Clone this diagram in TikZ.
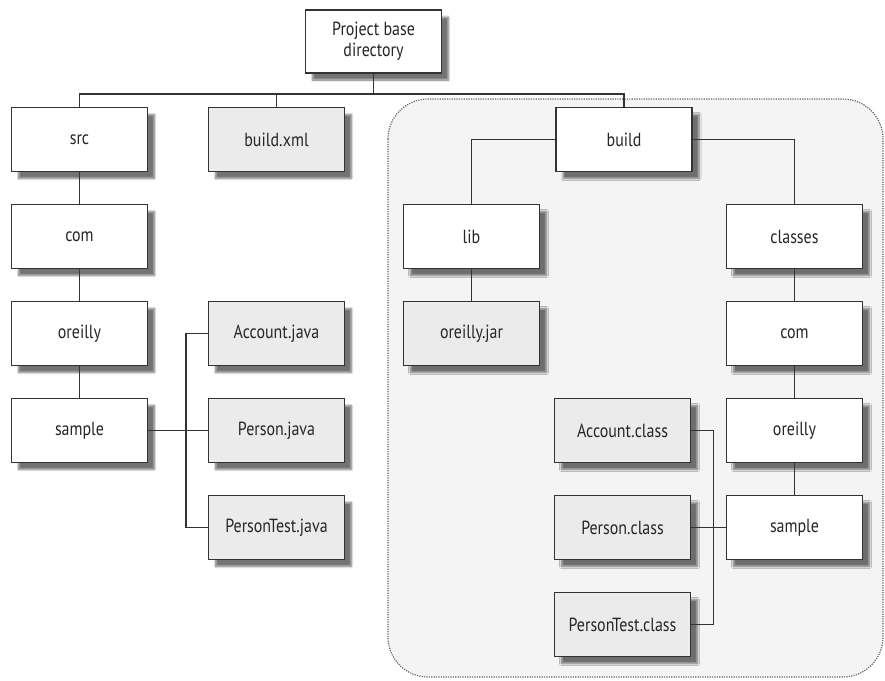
\documentclass[tikz,border=0pt]{standalone}
\usepackage{fontspec}
\setmainfont[FakeStretch=0.84]{PT Sans}
\usetikzlibrary{shadows.blur}
\definecolor{regionfill}{HTML}{F4F4F4}
\definecolor{filefill}{HTML}{EBEBEB}
\definecolor{linecol}{HTML}{333333}
\begin{document}
\begin{tikzpicture}[x=1pt,y=-1pt,
  box/.style={draw=linecol, line width=1.5pt, minimum width=136pt, minimum height=64pt,
    inner sep=0pt, align=center, font=\fontsize{19}{21}\selectfont, text=black!85,
    blur shadow={shadow xshift=7pt, shadow yshift=-7pt, shadow blur steps=6, shadow opacity=55}},
  folder/.style={box, fill=white},
  file/.style={box, fill=filefill},
  link/.style={draw=linecol, line width=1.5pt}]
\useasboundingbox (0,0) rectangle (885,680);
% region for build output
\draw[draw=black!60, line width=1.2pt, dash pattern=on 1.2pt off 1.2pt, fill=regionfill, rounded corners=40pt]
  (388,99) rectangle (883,677);
% nodes
\node[folder, minimum height=63pt] (top) at (373.5,41.5) {Project base\\directory};
\node[folder] (src) at (79.5,139.5) {src};
\node[file] (buildxml) at (276.5,139.5) {build.xml};
\node[folder] (com) at (79.5,236.5) {com};
\node[folder] (oreilly) at (79.5,333.5) {oreilly};
\node[folder] (sample) at (79.5,430.5) {sample};
\node[file] (acctj) at (276.5,333.5) {Account.java};
\node[file] (persj) at (276.5,430.5) {Person.java};
\node[file] (ptj) at (276.5,527.5) {PersonTest.java};
\node[folder] (build) at (624,139.5) {build};
\node[folder] (lib) at (471.5,236.5) {lib};
\node[folder] (classes) at (794.5,236.5) {classes};
\node[file] (jar) at (471.5,333.5) {oreilly.jar};
\node[folder] (comb) at (794.5,333.5) {com};
\node[folder] (oreillyb) at (794.5,430.5) {oreilly};
\node[folder] (sampleb) at (794.5,527.5) {sample};
\node[file] (acctc) at (622.5,430.5) {Account.class};
\node[file] (persc) at (622.5,527.5) {Person.class};
\node[file] (ptc) at (622.5,624.5) {PersonTest.class};
% connectors
\coordinate (busy) at (0,94);
\draw[link] (src.north) -- (src.north |- busy) -| (build.north);
\draw[link] (top.south) -- (top.south |- busy);
\draw[link] (buildxml.north) -- (buildxml.north |- busy);
\draw[link] (src.south) -- (com.north);
\draw[link] (com.south) -- (oreilly.north);
\draw[link] (oreilly.south) -- (sample.north);
\draw[link] (acctj.west) -- ++(-22,0) |- (ptj.west);
\draw[link] (sample.east) -- (persj.west);
\draw[link] (build.west) -| (lib.north);
\draw[link] (build.east) -| (classes.north);
\draw[link] (lib.south) -- (jar.north);
\draw[link] (classes.south) -- (comb.north);
\draw[link] (comb.south) -- (oreillyb.north);
\draw[link] (oreillyb.south) -- (sampleb.north);
\draw[link] (acctc.east) -- ++(22,0) |- (ptc.east);
\draw[link] (persc.east) -- (sampleb.west);
\end{tikzpicture}
\end{document}
